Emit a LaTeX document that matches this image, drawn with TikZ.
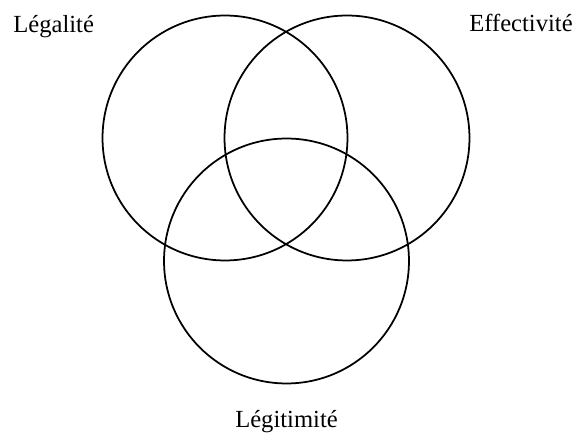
\documentclass[tikz,border=0pt]{standalone}
\usepackage{fontspec}
\setmainfont{Liberation Serif}
\usepackage{tikz}
\usetikzlibrary{positioning}
\tikzset{
  setcircle/.style={draw, circle, line width=1pt, minimum size=4.9cm, inner sep=0pt},
  setlabel/.style={font=\fontsize{14}{16}\selectfont, inner sep=0pt}
}
\begin{document}
\begin{tikzpicture}[x=0.02cm, y=-0.02cm]

% --- Frame (keeps the margins of the page) ---
\useasboundingbox (0,0) rectangle (576,435);

% --- Circle centres ---
\def\legx{225}   \def\legy{138}
\def\effx{347}   \def\effy{138}
\def\litx{286.5} \def\lity{261}

% --- The three sets ---
\node[setcircle] (legalite)   at (\legx,\legy) {};
\node[setcircle] (effectivite) at (\effx,\effy) {};
\node[setcircle] (legitimite) at (\litx,\lity) {};

% --- Labels ---
\node[setlabel, anchor=base west] (lblleg) at (13,33)    {Légalité};
\node[setlabel, anchor=base east] (lbleff) at (573,32)   {Effectivité};
\node[setlabel, anchor=base]      (lbllit) at (286.5,428) {Légitimité};

\end{tikzpicture}
\end{document}
